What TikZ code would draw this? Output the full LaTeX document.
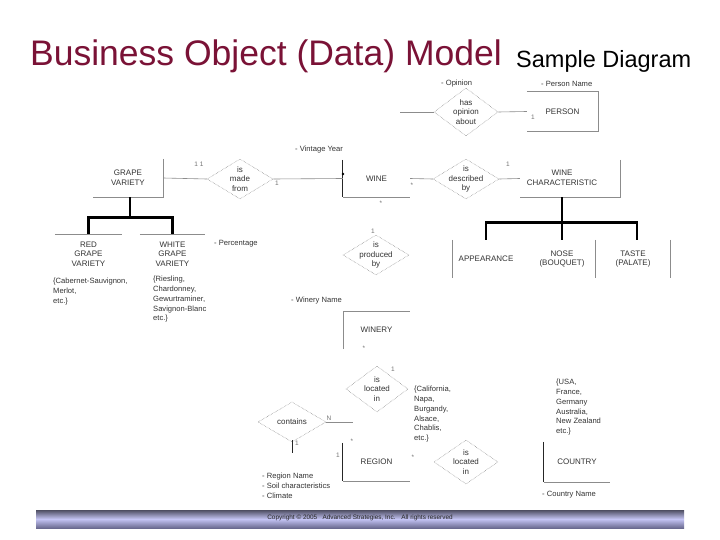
\documentclass[tikz,border=0pt]{standalone}
\usepackage{fontspec}
\setmainfont{Liberation Sans}
\usetikzlibrary{shapes.geometric,calc}
\definecolor{titlered}{HTML}{7A1236}
\definecolor{barlight}{HTML}{C4C4F4}
\definecolor{bardark}{HTML}{4E4E62}
\definecolor{barbottom}{HTML}{6A6A90}
\begin{document}
\begin{tikzpicture}[x=1pt,y=-1pt,
  txt/.style={font=\fontsize{8}{9.6}\selectfont, text=black!80, align=center, inner sep=0},
  box/.style={rectangle, inner sep=0, font=\fontsize{8}{9.6}\selectfont, text=black!80, align=center},
  edge/.style={draw=black!45, line width=0.6pt},
  dark/.style={draw=black!85, line width=0.9pt},
  rel/.style={diamond, draw=black!50, densely dotted, line width=0.5pt, inner sep=0},
  gen/.style={draw=black, line width=2.8pt},
  attr/.style={font=\fontsize{7.6}{9.8}\selectfont, text=black!80, align=left, inner sep=0},
  mult/.style={font=\fontsize{6.5}{7}\selectfont, text=black!55, inner sep=0}
]
\useasboundingbox (0,0) rectangle (720,540);
\fill[white] (0,0) rectangle (720,540);

% ---- title ----
\node[anchor=base west, font=\fontsize{35.5}{36}\selectfont, text=titlered, inner sep=0] (title) at (30,66) {Business Object (Data) Model};
\node[anchor=base west, font=\fontsize{23.5}{24}\selectfont, text=black, inner sep=0] (subtitle) at (516,68) {Sample Diagram};

% ---- boxes ----
\node[box, minimum width=71, minimum height=39] (person) at (562.5,111.5) {PERSON};
\draw[edge] (person.north west) -- (person.north east) -- (person.south east) -- (person.south west);

\node[box, minimum width=70, minimum height=38] (grape) at (128,178) {GRAPE\\VARIETY};
\draw[edge] (grape.north east) -- (grape.south east) -- (grape.south west);

\node[box, minimum width=67, minimum height=37] (wine) at (376.5,178.5) {WINE};
\draw[dark] (wine.north west) -- (wine.south west);
\draw[edge] (wine.south west) -- (wine.south east);

\node[box, minimum width=100, minimum height=37] (winechar) at (570,178.5) {};
\node[txt] (winechartxt) at (562,178) {WINE\\CHARACTERISTIC};
\draw[edge] (winechar.north east) -- (winechar.south east) -- (winechar.south west);

\node[box, minimum width=67, minimum height=40] (red) at (88.5,254) {RED\\GRAPE\\VARIETY};
\draw[edge] (red.north west) -- (red.north east);
\node[box, minimum width=65, minimum height=40] (white) at (172.5,254) {WHITE\\GRAPE\\VARIETY};
\draw[edge] (white.north west) -- (white.north east);

\node[box, minimum width=68, minimum height=38] (appear) at (486,259) {APPEARANCE};
\draw[edge] (appear.north west) -- (appear.south west);
\node[box, minimum width=66, minimum height=38] (nose) at (562,259) {NOSE\\(BOUQUET)};
\node[box, minimum width=75, minimum height=38] (taste) at (633,259) {TASTE\\(PALATE)};
\draw[edge] (taste.north west) -- (taste.south west);
\draw[edge] (taste.north east) -- (taste.south east);

\node[box, minimum width=67, minimum height=38] (winery) at (376.5,330) {WINERY};
\draw[edge] (winery.south west) -- (winery.north west) -- (winery.north east);

\node[box, minimum width=67, minimum height=38] (region) at (376.5,462) {REGION};
\draw[dark] (region.north west) -- (region.south west);
\draw[edge] (region.south west) -- (region.south east);

\node[box, minimum width=66, minimum height=40] (country) at (577,462) {COUNTRY};
\draw[dark] (country.north west) -- (country.south west);
\draw[edge] (country.south west) -- (country.south east);

% ---- relationships ----
\node[rel, minimum width=64, minimum height=48, label={[txt]center:has\\opinion\\about}] (opinion) at (466,112) {};
\node[rel, minimum width=66, minimum height=40, label={[txt]center:is\\made\\from}] (madefrom) at (240,179) {};
\node[rel, minimum width=66, minimum height=40, label={[txt]center:is\\described\\by}] (describedby) at (466,179) {};
\node[rel, minimum width=66, minimum height=40, label={[txt]center:is\\produced\\by}] (producedby) at (376,255) {};
\node[rel, minimum width=62, minimum height=46, label={[txt]center:is\\located\\in}] (locatedin) at (377,389) {};
\node[rel, minimum width=68, minimum height=40, label={[txt]center:contains}] (contains) at (292,422) {};
\node[rel, minimum width=64, minimum height=44, label={[txt]center:is\\located\\in}] (locatedin2) at (466,462) {};

% ---- connectors ----
\draw[edge] (grape.east) -- (madefrom.west);
\draw[edge] (madefrom.east) -- (wine.west);
\draw[edge] (wine.east) -- (describedby.west);
\draw[edge] (describedby.east) -- (winechar.west);
\draw[edge] (opinion.east) -- (person.west);
\coordinate (opstub) at (400,112);
\draw[edge] (opstub) -- (opinion.west);
\coordinate (constub) at (353,422);
\draw[edge] (contains.east) -- (constub);
\coordinate (constubtop) at (292,440);
\coordinate (constubbot) at (292,453);
\draw[dark, line width=0.7pt] (constubtop) -- (constubbot);
\fill[black] (343,174) circle (1.3);

% ---- generalisations ----
\draw[gen] ([xshift=2pt]grape.south) -- ++(0,20) coordinate (gj);
\draw[gen] (red.north) -- (red.north |- gj) -- (white.north |- gj) -- (white.north);
\draw[gen] (winechartxt |- winechar.south) -- ++(0,25) coordinate (wj);
\draw[gen] (appear.north) -- (appear.north |- wj) -- ([xshift=4pt]taste.north |- wj) -- ([xshift=4pt]taste.north);
\draw[gen] (nose.north) -- (nose.north |- wj);

% ---- attributes ----
\node[attr, anchor=west] (aopinion) at (441,84) {- Opinion};
\node[attr, anchor=west] (aperson) at (541,84) {- Person Name};
\node[attr, anchor=west] (avintage) at (295,150) {- Vintage Year};
\node[attr, anchor=west] (apercent) at (214,244) {- Percentage};
\node[attr, anchor=west] (awinery) at (291,301) {- Winery Name};
\node[attr, anchor=north west] (aregion) at (262,473) {- Region Name\\- Soil characteristics\\- Climate};
\node[attr, anchor=west] (acountry) at (542,495) {- Country Name};

% ---- examples ----
\node[attr, anchor=north west] (exred) at (53,278) {\{Cabernet-Sauvignon,\\Merlot,\\etc.\}};
\node[attr, anchor=north west] (exwhite) at (153,276) {\{Riesling,\\Chardonney,\\Gewurtraminer,\\Savignon-Blanc\\etc.\}};
\node[attr, anchor=north west] (exregion) at (414,386) {\{California,\\Napa,\\Burgandy,\\Alsace,\\Chablis,\\etc.\}};
\node[attr, anchor=north west] (excountry) at (556,379) {\{USA,\\France,\\Germany\\Australia,\\New Zealand\\etc.\}};

% ---- multiplicities ----
\node[mult] (m1) at (199,164) {1 1};
\node[mult] (m2) at (277,183) {1};
\node[mult] (m3) at (412,185) {*};
\node[mult] (m4) at (381,203) {*};
\node[mult] (m5) at (508,164) {1};
\node[mult] (m6) at (373,231) {1};
\node[mult] (m7) at (364,348) {*};
\node[mult] (m8) at (393,369) {1};
\node[mult] (m9) at (329,418) {N};
\node[mult] (m10) at (352,441) {*};
\node[mult] (m11) at (413,457) {*};
\node[mult] (m12) at (297,443) {1};
\node[mult] (m13) at (338,455) {1};
\node[mult] (m14) at (533,117) {1};

% ---- footer ----
\shade[top color=bardark, bottom color=barbottom, middle color=barlight] (36,510) rectangle (684,528);
\node[font=\fontsize{6.4}{7}\selectfont, text=black!85, inner sep=0] (copyright) at (360,517.5) {Copyright \textcopyright\ 2005 \ \ Advanced Strategies, Inc. \ \ All rights reserved};
\end{tikzpicture}
\end{document}
